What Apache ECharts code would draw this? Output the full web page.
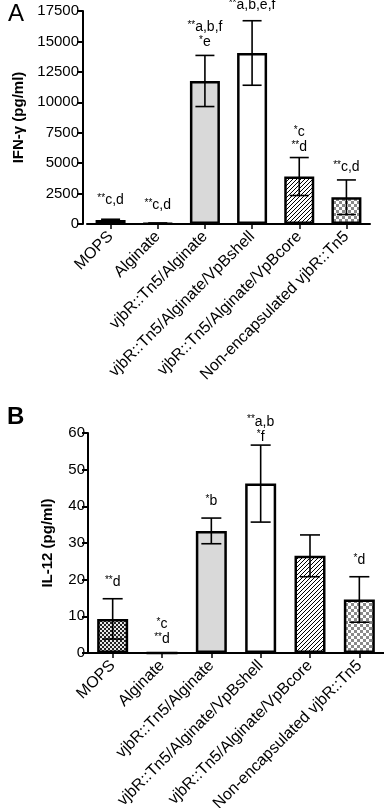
<!DOCTYPE html>
<html><head><meta charset="utf-8">
<script src="https://cdn.jsdelivr.net/npm/echarts@6/dist/echarts.min.js"></script>
<style>html,body{margin:0;padding:0;background:#fff}#c{width:384px;height:808px}</style>
</head><body><div id="c"></div>
<script>
const categories = ['MOPS','Alginate','vjbR::Tn5/Alginate','vjbR::Tn5/Alginate/VpBshell','vjbR::Tn5/Alginate/VpBcore','Non-encapsulated vjbR::Tn5'];
const ifnMean = [330, 60, 11750, 14050, 3900, 2200];
const ifnErr = [60, 20, 2100, 2650, 1560, 1420];
const il12Mean = [9.3, 0, 33.3, 46.2, 26.5, 14.6];
const il12Err = [5.5, 0, 3.5, 10.5, 5.7, 6.2];
const ifnTicks = {min: 0, max: 17500, interval: 2500};
const il12Ticks = {min: 0, max: 60, interval: 10};
const ifnNotes = [['**c,d'], ['**c,d'], ['**a,b,f','*e'], ['**a,b,e,f'], ['*c','**d'], ['**c,d']];
const ifnNoteLevel = [1974, 1563, 14968, 18010, 6332, 4688];
const il12Notes = [['**d'], ['*c','**d'], ['*b'], ['**a,b','*f'], [], ['*d']];
const il12NoteLevel = [19.2, 3.8, 41.5, 59.0, null, 25.2];

const FONT = '"Liberation Sans", Arial, Helvetica, sans-serif';

function makePattern(kind){
  const c = document.createElement('canvas');
  const ctx = c.getContext('2d');
  if (kind === 'checkDense'){
    c.width = 4; c.height = 4;
    ctx.fillStyle = '#e8e8e8'; ctx.fillRect(0,0,4,4);
    ctx.fillStyle = '#222';
    ctx.fillRect(0,0,2,2); ctx.fillRect(2,2,2,2);
  } else if (kind === 'checkLight'){
    c.width = 6; c.height = 6;
    ctx.fillStyle = '#fff'; ctx.fillRect(0,0,6,6);
    ctx.fillStyle = '#8a8a8a';
    ctx.fillRect(0,0,3,3); ctx.fillRect(3,3,3,3);
  } else if (kind === 'hatch'){
    c.width = 4; c.height = 4;
    ctx.fillStyle = '#fff'; ctx.fillRect(0,0,4,4);
    ctx.strokeStyle = '#000'; ctx.lineWidth = 1;
    ctx.beginPath();
    ctx.moveTo(-1,5); ctx.lineTo(5,-1);
    ctx.moveTo(-1,1); ctx.lineTo(1,-1);
    ctx.moveTo(3,5); ctx.lineTo(5,3);
    ctx.stroke();
  }
  return {image: c, repeat: 'repeat'};
}
const fills = [makePattern('checkDense'), '#ffffff', '#d9d9d9', '#ffffff', makePattern('hatch'), makePattern('checkLight')];

function barData(vals){
  return vals.map((v,i)=>({value: v, itemStyle: {color: fills[i]}}));
}
function errData(m, e){
  return m.map((v,i)=> e[i] > 0 ? [i, v - e[i], v + e[i]] : [i, '-', '-']);
}
function noteData(notes, levels){
  return notes.map((n,i)=> [i, levels[i] == null ? '-' : levels[i]]);
}
function toRich(s){
  const m = s.match(/^(\*+)(.*)$/);
  return '{s|' + m[1] + '}{t|' + m[2] + '}';
}
function errRender(capW){
  return function(params, api){
    const lo = api.value(1), hi = api.value(2);
    if (isNaN(lo)) return null;
    const p1 = api.coord([api.value(0), hi]);
    const p2 = api.coord([api.value(0), lo]);
    const st = {stroke: '#000', lineWidth: 1.6};
    return {type: 'group', children: [
      {type: 'line', shape: {x1: p1[0], y1: p1[1], x2: p2[0], y2: p2[1]}, style: st},
      {type: 'line', shape: {x1: p1[0]-capW/2, y1: p1[1], x2: p1[0]+capW/2, y2: p1[1]}, style: st},
      {type: 'line', shape: {x1: p2[0]-capW/2, y1: p2[1], x2: p2[0]+capW/2, y2: p2[1]}, style: st}
    ]};
  };
}
function noteRender(notes){
  return function(params, api){
    const i = api.value(0);
    const lv = api.value(1);
    const lines = notes[i];
    if (!lines || !lines.length || isNaN(lv)) return null;
    const p = api.coord([i, lv]);
    const children = lines.map((s,k)=>({
      type: 'text',
      style: {
        text: toRich(s), x: p[0], y: p[1] - (lines.length-1-k)*15,
        align: 'center', verticalAlign: 'middle',
        rich: {
          s: {fontSize: 10, fontFamily: FONT, fill: '#000', verticalAlign: 'top', padding: [0,0,4,0]},
          t: {fontSize: 14, fontFamily: FONT, fill: '#000'}
        }
      }
    }));
    return {type: 'group', children};
  };
}

const axisLine = {show: true, lineStyle: {color: '#000', width: 2}};
const axisTick = {show: true, inside: false, length: 6, lineStyle: {color: '#000', width: 2}};
const plain = v => String(v);

const chart = echarts.init(document.getElementById('c'), null, {renderer: 'canvas'});
chart.setOption({
  animation: false,
  backgroundColor: '#fff',
  title: [
    {text: 'A', left: 3, top: -3, textStyle: {fontSize: 24, fontWeight: 'normal', fontFamily: FONT, color: '#000'}},
    {text: 'B', left: 2, top: 400, textStyle: {fontSize: 24, fontWeight: 'bold', fontFamily: FONT, color: '#000'}}
  ],
  grid: [
    {left: 87, width: 283, top: 11, height: 213, containLabel: false, outerBoundsMode: 'none'},
    {left: 88, width: 296, top: 433, height: 220, containLabel: false, outerBoundsMode: 'none'}
  ],
  xAxis: [0,1].map(g=>({
    type: 'category', gridIndex: g, data: categories,
    axisLine: axisLine,
    axisTick: {show: true, alignWithLabel: true, length: 5, lineStyle: {color: '#000', width: 1.5}},
    axisLabel: {interval: 0, rotate: 45, fontSize: 16, fontFamily: FONT, color: '#000', margin: 10},
    splitLine: {show: false}
  })),
  yAxis: [
    {type: 'value', gridIndex: 0, min: ifnTicks.min, max: ifnTicks.max, interval: ifnTicks.interval, offset: 4,
     name: 'IFN-γ (pg/ml)', nameLocation: 'middle', nameGap: 47,
     nameTextStyle: {fontSize: 15, fontWeight: 'bold', fontFamily: FONT, color: '#000'},
     axisLine: axisLine, axisTick: axisTick, splitLine: {show: false},
     axisLabel: {fontSize: 15, fontFamily: FONT, color: '#000', margin: 4, formatter: plain}},
    {type: 'value', gridIndex: 1, min: il12Ticks.min, max: il12Ticks.max, interval: il12Ticks.interval,
     name: 'IL-12 (pg/ml)', nameLocation: 'middle', nameGap: 33,
     nameTextStyle: {fontSize: 15, fontWeight: 'bold', fontFamily: FONT, color: '#000'},
     axisLine: axisLine, axisTick: axisTick, splitLine: {show: false},
     axisLabel: {fontSize: 15, fontFamily: FONT, color: '#000', margin: 3, formatter: plain}}
  ],
  series: [
    {type: 'bar', xAxisIndex: 0, yAxisIndex: 0, barWidth: 30, data: barData(ifnMean),
     itemStyle: {borderColor: '#000', borderWidth: 2.5}},
    {type: 'custom', xAxisIndex: 0, yAxisIndex: 0, renderItem: errRender(19), data: errData(ifnMean, ifnErr), z: 5},
    {type: 'custom', xAxisIndex: 0, yAxisIndex: 0, renderItem: noteRender(ifnNotes), data: noteData(ifnNotes, ifnNoteLevel), z: 6, clip: false},
    {type: 'bar', xAxisIndex: 1, yAxisIndex: 1, barWidth: 31, data: barData(il12Mean),
     itemStyle: {borderColor: '#000', borderWidth: 2.5}},
    {type: 'custom', xAxisIndex: 1, yAxisIndex: 1, renderItem: errRender(20), data: errData(il12Mean, il12Err), z: 5},
    {type: 'custom', xAxisIndex: 1, yAxisIndex: 1, renderItem: noteRender(il12Notes), data: noteData(il12Notes, il12NoteLevel), z: 6, clip: false}
  ]
});
</script></body></html>
